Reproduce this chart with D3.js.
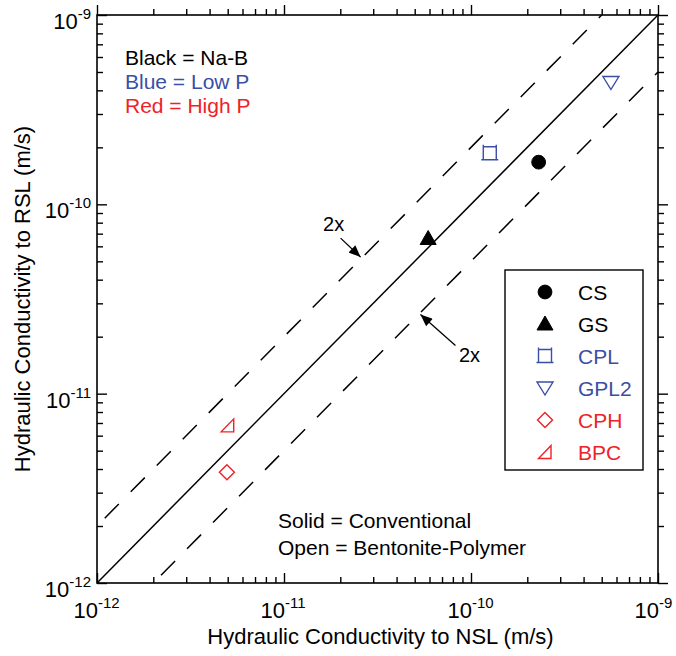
<!DOCTYPE html>
<html>
<head>
<meta charset="utf-8">
<script src="https://cdn.jsdelivr.net/npm/d3@7"></script>
<style>
  body { margin: 0; background: #fff; }
  text { font-family: "Liberation Sans", Arial, Helvetica, sans-serif; }
</style>
</head>
<body>
<svg id="svg"></svg>
<script>
// data: k to NSL (x) vs k to RSL (y), m/s
const names = ['CS', 'GS', 'CPL', 'GPL2', 'CPH', 'BPC'];
const kNSL = [2.3e-10, 5.9e-11, 1.26e-10, 5.6e-10, 4.95e-12, 5.0e-12];
const kRSL = [1.67e-10, 6.6e-11, 1.86e-10, 4.4e-10, 3.85e-12, 6.8e-12];
const symbols = ['circle', 'triangle', 'square', 'triangleDown', 'diamond', 'rightTri'];
const groups = ['Na-B', 'Na-B', 'Low P', 'Low P', 'High P', 'High P'];
const majorTicks = [1e-12, 1e-11, 1e-10, 1e-9];
const tickExps = ['-12', '-11', '-10', '-9'];

const width = 676;
const height = 656;
const black = '#000';
const blue = '#3b4ea6';
const red = '#ee2227';
const colorOf = { 'Na-B': black, 'Low P': blue, 'High P': red };

const svg = d3.select('#svg')
  .attr('width', width)
  .attr('height', height);

const x = d3.scaleLog().domain([1e-12, 1e-9]).range([97, 658]);
const y = d3.scaleLog().domain([1e-12, 1e-9]).range([583, 15]);

// minor ticks 2..9 in every decade
const minorTicks = [];
majorTicks.slice(0, 3).forEach(m => {
  for (let i = 2; i <= 9; i++) minorTicks.push(m * i);
});

const plot = svg.append('g');

// frame
plot.append('rect')
  .attr('x', x.range()[0])
  .attr('y', y.range()[1])
  .attr('width', x.range()[1] - x.range()[0])
  .attr('height', y.range()[0] - y.range()[1])
  .attr('fill', 'none')
  .attr('stroke', black)
  .attr('stroke-width', 1.6);

// inward ticks on all four sides
function addAxis(axisFn, scale, values, size, transform) {
  const g = plot.append('g')
    .attr('transform', transform)
    .call(axisFn(scale).tickValues(values).tickSize(-size).tickFormat(''));
  g.select('.domain').remove();
  g.selectAll('line').attr('stroke', black).attr('stroke-width', 1.4);
}
[[majorTicks, 10], [minorTicks, 6]].forEach(([vals, len]) => {
  addAxis(d3.axisBottom, x, vals, len, `translate(0,${y.range()[0]})`);
  addAxis(d3.axisTop, x, vals, -len, `translate(0,${y.range()[1]})`);
  addAxis(d3.axisLeft, y, vals, len, `translate(${x.range()[0]},0)`);
  addAxis(d3.axisRight, y, vals, -len, `translate(${x.range()[1]},0)`);
});

// tick labels with superscript exponents
majorTicks.forEach((v, i) => {
  svg.append('text')
    .attr('x', x(v) + 1)
    .attr('y', y.range()[0] + 35)
    .attr('text-anchor', 'end')
    .attr('font-size', 22)
    .text('10');
  svg.append('text')
    .attr('x', x(v) + 1)
    .attr('y', y.range()[0] + 25)
    .attr('font-size', 15)
    .text(tickExps[i]);

  const ty = svg.append('text')
    .attr('x', x.range()[0] - 6)
    .attr('y', y(v) + 14)
    .attr('text-anchor', 'end')
    .attr('font-size', 22);
  ty.append('tspan').text('10');
  ty.append('tspan').attr('font-size', 15).attr('dy', -10).text(tickExps[i]);
});

// axis titles
svg.append('text')
  .attr('x', (x.range()[0] + x.range()[1]) / 2 + 3)
  .attr('y', 644)
  .attr('text-anchor', 'middle')
  .attr('font-size', 22)
  .text('Hydraulic Conductivity to NSL (m/s)');

svg.append('text')
  .attr('transform', `translate(30,${(y.range()[0] + y.range()[1]) / 2}) rotate(-90)`)
  .attr('text-anchor', 'middle')
  .attr('font-size', 22)
  .text('Hydraulic Conductivity to RSL (m/s)');

// 1:1 line and factor-of-2 lines
const defs = svg.append('defs');
defs.append('clipPath').attr('id', 'clip')
  .append('rect')
  .attr('x', x.range()[0]).attr('y', y.range()[1])
  .attr('width', x.range()[1] - x.range()[0])
  .attr('height', y.range()[0] - y.range()[1]);

const lineGen = d3.line().x(d => x(d[0])).y(d => y(d[1]));
const lines = plot.append('g').attr('clip-path', 'url(#clip)');
lines.append('path')
  .attr('d', lineGen([[1e-12, 1e-12], [1e-9, 1e-9]]))
  .attr('stroke', black).attr('stroke-width', 1.5).attr('fill', 'none');
lines.append('path')
  .attr('d', lineGen([[1.1e-12, 2.2e-12], [5e-10, 1e-9]]))
  .attr('stroke', black).attr('stroke-width', 1.5).attr('fill', 'none')
  .attr('stroke-dasharray', '20,17');
lines.append('path')
  .attr('d', lineGen([[2.2e-12, 1.1e-12], [1e-9, 5e-10]]))
  .attr('stroke', black).attr('stroke-width', 1.5).attr('fill', 'none')
  .attr('stroke-dasharray', '20,17');

// "2x" arrows
defs.append('marker')
  .attr('id', 'arrow')
  .attr('viewBox', '0 0 12 10')
  .attr('refX', 12).attr('refY', 5)
  .attr('markerWidth', 13).attr('markerHeight', 10)
  .attr('markerUnits', 'userSpaceOnUse')
  .attr('orient', 'auto')
  .append('path')
  .attr('d', 'M0,0 L12,5 L0,10 Z')
  .attr('fill', black);

// arrow ends are placed on the dashed lines
const upperHit = [x(2.6e-11), y(5.2e-11)];
const lowerHit = [x(5.3e-11), y(2.65e-11)];
plot.append('line')
  .attr('x1', upperHit[0] - 21).attr('y1', upperHit[1] - 20)
  .attr('x2', upperHit[0] - 1).attr('y2', upperHit[1] - 1)
  .attr('stroke', black).attr('stroke-width', 1.3)
  .attr('marker-end', 'url(#arrow)');
plot.append('text')
  .attr('x', upperHit[0] - 28).attr('y', upperHit[1] - 27)
  .attr('text-anchor', 'middle')
  .attr('font-size', 20)
  .text('2x');
plot.append('line')
  .attr('x1', lowerHit[0] + 36).attr('y1', lowerHit[1] + 32)
  .attr('x2', lowerHit[0] + 1).attr('y2', lowerHit[1] + 1)
  .attr('stroke', black).attr('stroke-width', 1.3)
  .attr('marker-end', 'url(#arrow)');
plot.append('text')
  .attr('x', lowerHit[0] + 50).attr('y', lowerHit[1] + 48)
  .attr('text-anchor', 'middle')
  .attr('font-size', 20)
  .text('2x');

// marker shapes
function symbolPath(kind) {
  switch (kind) {
    case 'circle': return d3.symbol(d3.symbolCircle, 150)();
    case 'triangle': return 'M0,-8 L8,6 L-8,6 Z';
    case 'square': return 'M-6.5,-6.5 L6.5,-6.5 L6.5,6.5 L-6.5,6.5 Z M-6.5,-6.5 L-6.5,-8.5 M6.5,-6.5 L6.5,-8.5 M-6.5,6.5 L-8.5,6.5 M6.5,6.5 L8.5,6.5';
    case 'triangleDown': return 'M-8,-6 L8,-6 L0,7 Z';
    case 'diamond': return 'M0,-7.5 L7.5,0 L0,7.5 L-7.5,0 Z';
    case 'rightTri': return 'M-6.5,6.5 L6,6.5 L6,-6.5 Z';
  }
}
function drawMarker(g, i, cx, cy) {
  const c = colorOf[groups[i]];
  const filled = symbols[i] === 'circle' || symbols[i] === 'triangle';
  g.append('path')
    .attr('transform', `translate(${cx},${cy})`)
    .attr('d', symbolPath(symbols[i]))
    .attr('fill', filled ? c : 'none')
    .attr('stroke', c)
    .attr('stroke-width', filled ? 1 : 1.4);
}

names.forEach((n, i) => drawMarker(plot, i, x(kNSL[i]), y(kRSL[i])));

// colour key text
const key = [['Black = Na-B', black], ['Blue = Low P', blue], ['Red = High P', red]];
key.forEach((k, i) => {
  svg.append('text')
    .attr('x', 125)
    .attr('y', 65 + i * 24)
    .attr('font-size', 21)
    .attr('fill', k[1])
    .text(k[0]);
});

svg.append('text').attr('x', 278).attr('y', 528).attr('font-size', 21).text('Solid = Conventional');
svg.append('text').attr('x', 278).attr('y', 555).attr('font-size', 21).text('Open = Bentonite-Polymer');

// legend
const legend = svg.append('g').attr('transform', 'translate(505,270)');
legend.append('rect')
  .attr('width', 138).attr('height', 200)
  .attr('fill', '#fff').attr('stroke', black).attr('stroke-width', 1.4);
names.forEach((n, i) => {
  const ly = 22 + i * 32;
  drawMarker(legend, i, 40, ly);
  legend.append('text')
    .attr('x', 73).attr('y', ly + 8)
    .attr('font-size', 21)
    .attr('fill', colorOf[groups[i]])
    .text(n);
});
</script>
</body>
</html>
